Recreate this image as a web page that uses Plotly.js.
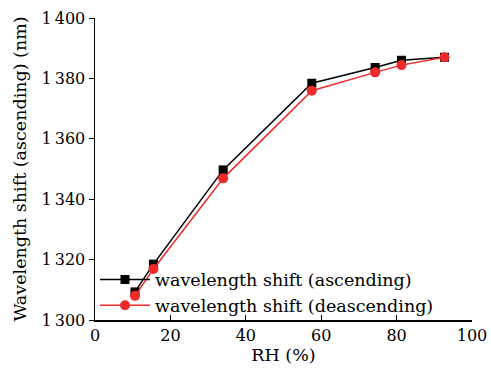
<!DOCTYPE html>
<html><head><meta charset="utf-8">
<script src="https://cdn.plot.ly/plotly-3.0.1.min.js"></script>
<style>html,body{margin:0;padding:0;background:#fff}#c{width:491px;height:375px}</style>
</head><body><div id="c"></div>
<script>
const rh = [10.6, 15.5, 34.0, 57.5, 74.3, 81.3, 92.7];
const ascending = [1309.3, 1318.5, 1349.7, 1378.4, 1383.6, 1386.0, 1387.0];
const descending = [1308.0, 1316.9, 1346.9, 1375.9, 1382.0, 1384.4, 1387.0];
const yTickVals = [1300, 1320, 1340, 1360, 1380, 1400];
const yTickText = ['1\u2009300', '1\u2009320', '1\u2009340', '1\u2009360', '1\u2009380', '1\u2009400'];
const xTickVals = [0, 20, 40, 60, 80, 100];

const font = '"DejaVu Serif", serif';
const traces = [
  {x: rh, y: ascending, name: 'wavelength shift (ascending)', mode: 'lines+markers',
   line: {color: '#000000', width: 1.5}, marker: {symbol: 'square', size: 9, color: '#000000'}},
  {x: rh, y: descending, name: 'wavelength shift (deascending)', mode: 'lines+markers',
   line: {color: '#ee2a2a', width: 1.5}, marker: {symbol: 'circle', size: 10, color: '#ee2a2a'}}
];
const layout = {
  width: 491, height: 375,
  margin: {l: 95, r: 19, t: 18, b: 55},
  paper_bgcolor: '#fff', plot_bgcolor: '#fff',
  font: {family: font, size: 16, color: '#000'},
  showlegend: true,
  legend: {x: 0.0, y: -0.012, xanchor: 'left', yanchor: 'bottom', bgcolor: 'rgba(0,0,0,0)',
           font: {family: font, size: 17.5, color: '#000'}, tracegroupgap: 0, itemwidth: 50},
  xaxis: {range: [0, 100], tickvals: xTickVals, showgrid: false, zeroline: false,
          showline: true, linecolor: '#000', linewidth: 1.5, ticks: 'inside', ticklen: 5,
          tickcolor: '#000', title: {text: 'RH (%)', font: {family: font, size: 17.5}, standoff: 4}},
  yaxis: {range: [1300, 1400], tickvals: yTickVals, ticktext: yTickText, showgrid: false, zeroline: false,
          showline: true, linecolor: '#000', linewidth: 1.5, ticks: 'outside', ticklen: 5,
          tickcolor: '#000', title: {text: 'Wavelength shift (ascending) (nm)', font: {family: font, size: 17.5}, standoff: 10}}
};
Plotly.newPlot('c', traces, layout, {displayModeBar: false, staticPlot: true});
</script></body></html>
